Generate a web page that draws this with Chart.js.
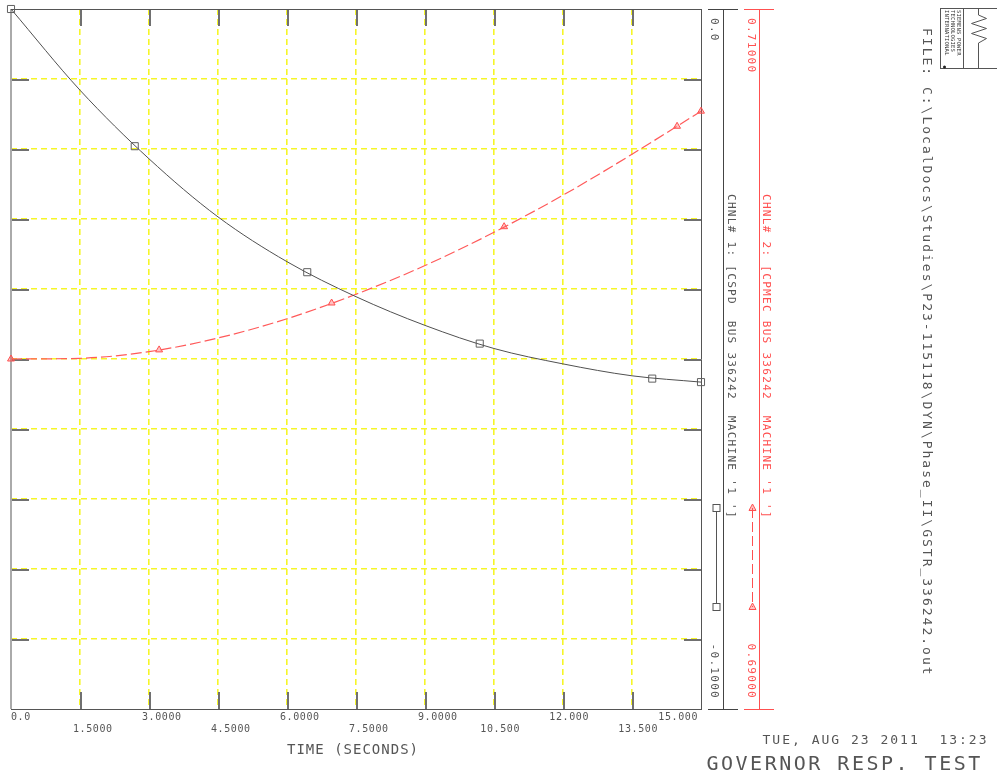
<!DOCTYPE html>
<html>
<head>
<meta charset="utf-8">
<title>Governor response test</title>
<script src="https://cdn.jsdelivr.net/npm/chart.js@4.4.1/dist/chart.umd.min.js"></script>
<style>
  html, body { margin: 0; padding: 0; background: #fff; }
  canvas { display: block; }
</style>
</head>
<body>
<canvas id="plot" width="997" height="775"></canvas>
<script>
// Time axis
const xTickValues = [0, 1.5, 3, 4.5, 6, 7.5, 9, 10.5, 12, 13.5, 15];
const xTickLabels = ['0.0', '1.5000', '3.0000', '4.5000', '6.0000', '7.5000',
                     '9.0000', '10.500', '12.000', '13.500', '15.000'];
const times = [0, 1.5, 3, 4.5, 6, 7.5, 9, 10.5, 12, 13.5, 15];

// Channel 1: CSPD (black scale)
const cspdTicks = [0, -0.01, -0.02, -0.03, -0.04, -0.05, -0.06, -0.07, -0.08, -0.09, -0.1];
const cspdRange = [-0.1, 0];
const cspdAxisLabels = ['0.0', '-0.1000'];
const cspdValues = [0, -0.0116, -0.0214, -0.0297, -0.0361, -0.0411,
                    -0.0452, -0.0485, -0.0507, -0.0524, -0.0533];
const cspdMarkTimes = [0, 2.69, 6.44, 10.19, 13.94, 15];
const cspdMarkValues = [0, -0.0196, -0.0376, -0.0478, -0.0528, -0.0533];

// Channel 2: CPMEC (red scale)
const cpmecRange = [0.69, 0.71];
const cpmecAxisLabels = ['0.71000', '0.69000'];
const cpmecValues = [0.70000, 0.70002, 0.70021, 0.70060, 0.70115, 0.70185,
                     0.70267, 0.70362, 0.70468, 0.70585, 0.70708];
const cpmecMarkTimes = [0, 3.22, 6.97, 10.72, 14.48, 15];
const cpmecMarkValues = [0.70000, 0.70026, 0.70160, 0.70378, 0.70665, 0.70708];

const chnl1Label = "CHNL# 1: [CSPD  BUS 336242  MACHINE '1 ']";
const chnl2Label = "CHNL# 2: [CPMEC BUS 336242  MACHINE '1 ']";
const fileLabel = 'FILE: C:\\LocalDocs\\Studies\\P23-115118\\DYN\\Phase_II\\GSTR_336242.out';
const dateLabel = 'TUE, AUG 23 2011  13:23';
const titleLabel = 'GOVERNOR RESP. TEST';
const xTitle = 'TIME (SECONDS)';

const MONO = '"DejaVu Sans Mono", "Liberation Mono", monospace';
const INK = '#555';
const RED = '#ff5050';
const GRID = '#f6f628';

function text(ctx, str, x, y, opts) {
    ctx.save();
    ctx.font = opts.size + 'px ' + MONO;
    ctx.fillStyle = opts.color || INK;
    ctx.letterSpacing = (opts.spacing || 0) + 'px';
    ctx.textAlign = opts.align || 'left';
    ctx.textBaseline = 'middle';
    ctx.translate(x, y);
    if (opts.rotate) ctx.rotate(Math.PI / 2);
    ctx.fillText(str, 0, 0);
    ctx.restore();
}

function line(ctx, x1, y1, x2, y2) {
    ctx.beginPath();
    ctx.moveTo(x1, y1);
    ctx.lineTo(x2, y2);
    ctx.stroke();
}

function square(ctx, x, y, color) {
    ctx.setLineDash([]);
    ctx.strokeStyle = color;
    ctx.lineWidth = 1;
    ctx.fillStyle = '#fff';
    ctx.fillRect(x - 3.5, y - 3.5, 7, 7);
    ctx.strokeRect(x - 3.5, y - 3.5, 7, 7);
}

function triangle(ctx, x, y, color) {
    ctx.setLineDash([]);
    ctx.beginPath();
    ctx.moveTo(x, y - 4);
    ctx.lineTo(x + 3.5, y + 2.5);
    ctx.lineTo(x - 3.5, y + 2.5);
    ctx.closePath();
    ctx.fillStyle = 'rgba(255,80,80,0.35)';
    ctx.fill();
    ctx.strokeStyle = color;
    ctx.lineWidth = 1;
    ctx.stroke();
}

// frame and inward tick marks go under the curves, all text on top
const framePlugin = {
    id: 'frame',
    beforeDatasetsDraw(chart) {
        const ctx = chart.ctx;
        const {left, top, right, bottom} = chart.chartArea;
        const xs = chart.scales.x, ys = chart.scales.y;
        ctx.save();
        ctx.strokeStyle = '#707070';
        ctx.lineWidth = 2;
        xTickValues.slice(1, -1).forEach(v => {
            const px = Math.round(xs.getPixelForValue(v)) + 1;
            line(ctx, px, top, px, top + 17);
            line(ctx, px, bottom - 17, px, bottom);
        });
        cspdTicks.slice(1, -1).forEach(v => {
            const py = Math.round(ys.getPixelForValue(v)) + 1;
            line(ctx, left, py, left + 18, py);
            line(ctx, right - 17, py, right, py);
        });
        ctx.strokeStyle = '#aaa';
        ctx.lineWidth = 2;
        line(ctx, left, top, left, bottom);
        ctx.strokeStyle = '#555';
        ctx.lineWidth = 1;
        line(ctx, left, top + 0.5, right, top + 0.5);
        line(ctx, right + 0.5, top, right + 0.5, bottom + 1);
        line(ctx, left, bottom + 0.5, right, bottom + 0.5);
        ctx.restore();
    },

    afterDraw(chart) {
        const ctx = chart.ctx;
        const {left, top, right, bottom} = chart.chartArea;
        const xs = chart.scales.x;

        // time tick labels, staggered in two rows
        xTickValues.forEach((v, i) => {
            const px = xs.getPixelForValue(v);
            const label = xTickLabels[i];
            const y = i % 2 === 0 ? bottom + 8 : bottom + 20.5;
            let x = px - 6.6 * label.indexOf('.') - 0.5;
            let align = 'left';
            if (i === 0) x = px;
            if (i === xTickValues.length - 1) { x = px - 3; align = 'right'; }
            text(ctx, label, x, y, {size: 10, spacing: 0.6, align: align});
        });
        text(ctx, xTitle, (left + right) / 2 - 3, bottom + 41, {size: 14, spacing: 1, align: 'center'});

        // the two channel axes on the right
        const axes = [
            {x: right + 22, color: '#444', text: INK, labels: cspdAxisLabels, lx: right + 12.5},
            {x: right + 58, color: RED, text: RED, labels: cpmecAxisLabels, lx: right + 50}
        ];
        ctx.save();
        axes.forEach(a => {
            ctx.strokeStyle = a.color;
            ctx.lineWidth = 1;
            line(ctx, a.x + 0.5, top, a.x + 0.5, bottom);
            line(ctx, a.x - 15, top + 0.5, a.x + 15, top + 0.5);
            line(ctx, a.x - 15, bottom + 0.5, a.x + 15, bottom + 0.5);
            text(ctx, a.labels[0], a.lx, top + 9, {size: 11, spacing: 1.3, rotate: true, color: a.text});
            text(ctx, a.labels[1], a.lx, bottom - 10, {size: 11, spacing: 1.3, rotate: true, color: a.text, align: 'right'});
        });

        // channel legends
        text(ctx, chnl1Label, right + 29.5, 194, {size: 11, spacing: 1.3, rotate: true});
        text(ctx, chnl2Label, right + 65, 194, {size: 11, spacing: 1.3, rotate: true, color: RED});

        ctx.strokeStyle = '#555';
        ctx.lineWidth = 1;
        line(ctx, right + 15.5, 508, right + 15.5, 607);
        square(ctx, right + 15.5, 508, '#555');
        square(ctx, right + 15.5, 607, '#555');
        ctx.strokeStyle = RED;
        ctx.setLineDash([10, 4]);
        line(ctx, right + 51.5, 508, right + 51.5, 607);
        triangle(ctx, right + 51.5, 508, RED);
        triangle(ctx, right + 51.5, 607, RED);
        ctx.restore();

        // file name, date and title
        text(ctx, fileLabel, 926.5, 28, {size: 13, spacing: 2, rotate: true});
        text(ctx, dateLabel, 762.5, 741, {size: 13, spacing: 2});
        text(ctx, titleLabel, 706.5, 764.5, {size: 20, spacing: 2.5});

        // logo box
        ctx.save();
        ctx.strokeStyle = '#555';
        ctx.lineWidth = 1;
        line(ctx, 940, 8.5, 997, 8.5);
        line(ctx, 940, 68.5, 997, 68.5);
        line(ctx, 940.5, 8.5, 940.5, 68.5);
        line(ctx, 963.5, 8.5, 963.5, 68.5);
        ctx.beginPath();
        ctx.moveTo(978.5, 8.5);
        ctx.lineTo(978.5, 15);
        ctx.lineTo(986.5, 18.5);
        ctx.lineTo(971.5, 23.5);
        ctx.lineTo(986.5, 28.5);
        ctx.lineTo(971.5, 33.5);
        ctx.lineTo(986.5, 38.5);
        ctx.lineTo(978.5, 43);
        ctx.lineTo(978.5, 68.5);
        ctx.stroke();
        ctx.fillStyle = '#222';
        ctx.beginPath();
        ctx.arc(944.5, 67, 1.5, 0, Math.PI * 2);
        ctx.fill();
        ctx.restore();
        text(ctx, 'SIEMENS POWER', 958, 10, {size: 5.5, spacing: 0.2, rotate: true, color: '#333'});
        text(ctx, 'TECHNOLOGIES', 952, 10, {size: 5.5, spacing: 0.2, rotate: true, color: '#333'});
        text(ctx, 'INTERNATIONAL', 946, 10, {size: 5.5, spacing: 0.2, rotate: true, color: '#333'});
    }
};

// 1.6px wide so that every dashed line spans two pixel columns;
// the first and last lines sit on the frame and are left out
const gridColor = ctx => (ctx.index === 0 || ctx.index === xTickValues.length - 1) ? 'rgba(0,0,0,0)' : GRID;
const gridOpts = {color: gridColor, lineWidth: 1.6, drawTicks: false};

const toPoints = (xs, ys) => xs.map((t, i) => ({x: t, y: ys[i]}));

new Chart(document.getElementById('plot'), {
    type: 'line',
    data: {
        datasets: [
            {
                label: 'CSPD',
                data: toPoints(times, cspdValues),
                yAxisID: 'y',
                borderColor: '#505050',
                borderWidth: 1,
                cubicInterpolationMode: 'monotone',
                pointRadius: 0,
                clip: false
            },
            {
                label: 'CPMEC',
                data: toPoints(times, cpmecValues),
                yAxisID: 'y2',
                borderColor: '#ff5a5a',
                borderWidth: 1.2,
                borderDash: [11, 4],
                cubicInterpolationMode: 'monotone',
                pointRadius: 0,
                clip: false
            },
            {
                label: 'CSPD markers',
                type: 'scatter',
                data: toPoints(cspdMarkTimes, cspdMarkValues),
                yAxisID: 'y',
                showLine: false,
                pointStyle: 'rect',
                pointRadius: 5,
                pointBorderColor: '#606060',
                pointBackgroundColor: 'rgba(0,0,0,0)',
                pointBorderWidth: 1,
                clip: false
            },
            {
                label: 'CPMEC markers',
                type: 'scatter',
                data: toPoints(cpmecMarkTimes, cpmecMarkValues),
                yAxisID: 'y2',
                showLine: false,
                pointStyle: 'triangle',
                pointRadius: 4,
                pointBorderColor: RED,
                pointBackgroundColor: 'rgba(255,80,80,0.35)',
                pointBorderWidth: 1,
                clip: false
            }
        ]
    },
    options: {
        responsive: false,
        animation: false,
        devicePixelRatio: 1,
        events: [],
        layout: {padding: {left: 11, top: 9, right: 296, bottom: 66}},
        plugins: {legend: {display: false}, tooltip: {enabled: false}},
        scales: {
            x: {
                type: 'linear',
                min: 0,
                max: 15,
                afterBuildTicks: s => { s.ticks = xTickValues.map(v => ({value: v})); },
                ticks: {display: false},
                grid: gridOpts,
                border: {display: false, dash: [6, 4]}
            },
            y: {
                position: 'left',
                min: cspdRange[0],
                max: cspdRange[1],
                afterBuildTicks: s => { s.ticks = cspdTicks.map(v => ({value: v})); },
                ticks: {display: false},
                grid: gridOpts,
                border: {display: false, dash: [6, 4]}
            },
            y2: {
                position: 'right',
                min: cpmecRange[0],
                max: cpmecRange[1],
                display: false
            }
        }
    },
    plugins: [framePlugin]
});
</script>
</body>
</html>
